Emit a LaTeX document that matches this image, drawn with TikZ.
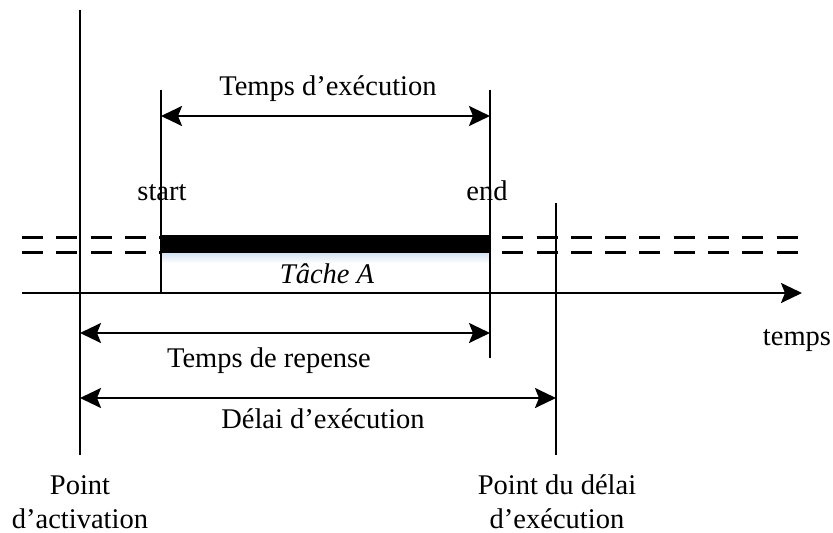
\documentclass[tikz,border=0pt]{standalone}
\usepackage{fontspec}
\setmainfont{Liberation Serif}
\usetikzlibrary{arrows.meta}
\definecolor{glow}{RGB}{212,226,242}
\begin{document}
\begin{tikzpicture}[x=1pt,y=-1pt,
  rule/.style={line width=2.4pt},
  tipend/.tip={Stealth[length=21pt,width=20pt,inset=4pt]},
  dim/.style={line width=2.4pt,tipend-tipend},
  axisline/.style={line width=2.4pt,-tipend},
  lane/.style={line width=3pt,dash pattern=on 21pt off 13.3pt},
  lbl/.style={font=\fontsize{28.5}{34}\selectfont,inner sep=0pt,anchor=base}]
\useasboundingbox (0,0) rectangle (833,533);

% reference points of the time line
\coordinate (act-top) at (80,10);    \coordinate (act-bot) at (80,455);
\coordinate (start-top) at (161,90); \coordinate (start-bot) at (161,293);
\coordinate (end-top) at (490,90);   \coordinate (end-bot) at (490,358);
\coordinate (dl-top) at (556,203);   \coordinate (dl-bot) at (556,455);
\coordinate (ax-l) at (22,293);      \coordinate (ax-r) at (802,293);
\coordinate (lane1-l) at (22,237);   \coordinate (lane1-r) at (802,237);
\coordinate (lane2-l) at (22,252);   \coordinate (lane2-r) at (802,252);

% task lanes
\draw[lane] (lane1-l) -- (lane1-r);
\draw[lane] (lane2-l) -- (lane2-r);

% execution of the task
\shade[top color=glow,bottom color=white] (160,253) rectangle (490,263);
\fill (160,235) rectangle (490,253);

% time axis
\draw[axisline] (ax-l) -- (ax-r);

% vertical markers
\draw[rule] (act-top) -- (act-bot);
\draw[rule] (start-top) -- (start-bot);
\draw[rule] (end-top) -- (end-bot);
\draw[rule] (dl-top) -- (dl-bot);

% dimension arrows
\coordinate (exe-l) at (161,116); \coordinate (exe-r) at (490,116);
\coordinate (rep-l) at (80,333);  \coordinate (rep-r) at (490,333);
\coordinate (del-l) at (80,398);  \coordinate (del-r) at (556,398);
\draw[dim] (exe-l) -- (exe-r);
\draw[dim] (rep-l) -- (rep-r);
\draw[dim] (del-l) -- (del-r);

% labels
\node[lbl] (t-exe) at (328,95) {Temps d’exécution};
\node[lbl] (t-start) at (162,200) {start};
\node[lbl] (t-end) at (487,200) {end};
\node[lbl,font=\fontsize{28.5}{34}\selectfont\itshape] (t-task) at (327,283) {Tâche A};
\node[lbl] (t-time) at (797,345) {temps};
\node[lbl] (t-rep) at (269,367) {Temps de repense};
\node[lbl] (t-del) at (323,428) {Délai d’exécution};
\node[lbl] (t-act1) at (80,494) {Point};
\node[lbl] (t-act2) at (80,528) {d’activation};
\node[lbl] (t-dl1) at (557,494) {Point du délai};
\node[lbl] (t-dl2) at (557,528) {d’exécution};
\end{tikzpicture}
\end{document}
